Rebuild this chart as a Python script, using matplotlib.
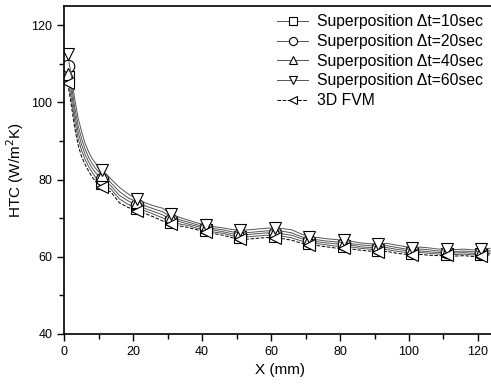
import matplotlib
matplotlib.use("Agg")
import matplotlib.pyplot as plt
from matplotlib.ticker import MultipleLocator

plt.rcParams['font.family'] = ['Liberation Sans', 'DejaVu Sans']

x_mm = [1, 2, 3, 4, 5, 6, 7, 8, 9, 10, 11,
        13.5, 16, 18.5, 21, 23.5, 26, 28.5, 31, 33.5, 36, 38.5, 41, 43.5, 46, 48.5, 51,
        53.5, 56, 58.5, 61, 63.5, 66, 68.5, 71, 73.5, 76, 78.5, 81, 83.5, 86, 88.5, 91,
        93.5, 96, 98.5, 101, 103.5, 106, 108.5, 111, 113.5, 116, 118.5, 121, 123.5]

htc_dt10 = [106.5, 101.3, 95.3, 90.7, 87.6, 85.3, 83.5, 82.0, 80.7, 79.8, 79.1,
            77.6, 75.0, 73.6, 72.7, 71.9, 71.0, 70.1, 69.0, 68.5, 68.1, 67.4, 66.9, 66.4, 66.1, 65.5, 65.1,
            65.2, 65.4, 65.6, 65.5, 65.3, 64.9, 64.2, 63.6, 63.4, 63.1, 62.8, 62.7, 62.5, 62.2, 62.0, 61.8,
            61.9, 61.5, 61.2, 61.0, 61.1, 60.9, 60.7, 60.8, 60.6, 60.7, 60.5, 60.7, 60.9]

htc_dt20 = [109.4, 103.1, 97.1, 92.4, 89.1, 86.6, 84.7, 83.1, 81.9, 80.9, 80.2,
            78.4, 75.9, 74.5, 73.4, 72.5, 71.7, 70.9, 69.6, 69.1, 68.5, 67.9, 67.4, 66.9, 66.5, 66.0, 65.7,
            65.8, 66.0, 66.2, 66.1, 65.9, 65.6, 64.8, 64.1, 63.9, 63.6, 63.4, 63.2, 63.0, 62.6, 62.4, 62.3,
            62.4, 62.0, 61.7, 61.4, 61.5, 61.3, 61.1, 61.2, 61.0, 61.1, 60.9, 61.1, 61.3]

htc_dt40 = [107.5, 104.9, 98.9, 94.0, 90.7, 88.0, 85.9, 84.3, 83.0, 82.0, 81.2,
            79.2, 76.9, 75.3, 74.2, 73.2, 72.4, 71.7, 70.3, 69.6, 69.0, 68.3, 67.8, 67.3, 67.0, 66.5, 66.2,
            66.3, 66.5, 66.7, 66.8, 66.6, 66.2, 65.3, 64.6, 64.4, 64.1, 63.9, 63.7, 63.4, 63.1, 62.9, 62.7,
            62.9, 62.5, 62.1, 61.9, 62.0, 61.8, 61.5, 61.6, 61.4, 61.5, 61.3, 61.5, 61.7]

htc_dt60 = [112.5, 107.0, 101.0, 96.0, 92.5, 89.5, 87.3, 85.6, 84.3, 83.3, 82.5,
            80.2, 78.0, 76.3, 75.0, 74.0, 73.2, 72.6, 71.0, 70.2, 69.5, 68.8, 68.3, 67.8, 67.5, 67.1, 66.9,
            67.0, 67.2, 67.4, 67.5, 67.3, 67.0, 66.0, 65.2, 65.0, 64.7, 64.5, 64.3, 64.0, 63.6, 63.4, 63.3,
            63.5, 63.1, 62.7, 62.4, 62.5, 62.3, 62.0, 62.0, 61.9, 62.0, 61.8, 62.0, 62.2]

htc_fvm = [105.0, 99.5, 93.5, 89.0, 86.0, 84.0, 82.3, 80.8, 79.6, 78.7, 78.0,
           76.8, 74.0, 72.8, 72.0, 71.2, 70.3, 69.3, 68.4, 68.0, 67.6, 67.0, 66.5, 66.0, 65.6, 65.0, 64.5,
           64.6, 64.8, 65.0, 64.9, 64.7, 64.3, 63.6, 63.1, 62.9, 62.6, 62.3, 62.2, 62.0, 61.7, 61.5, 61.3,
           61.4, 61.0, 60.7, 60.5, 60.6, 60.4, 60.3, 60.4, 60.2, 60.3, 60.1, 60.3, 60.5]

labels = ["Superposition \u0394t=10sec", "Superposition \u0394t=20sec",
          "Superposition \u0394t=40sec", "Superposition \u0394t=60sec", "3D FVM"]

marker_idx = [0] + list(range(10, len(x_mm), 4))

W, H = 491, 389
fig = plt.figure(figsize=(W / 100, H / 100), dpi=100)
ax_left, ax_bottom = 64.3 / W, (H - 334) / H
ax_h = (334 - 6) / H
ax_w = 125 * 3.447 / W
ax = fig.add_axes([ax_left, ax_bottom, ax_w, ax_h])

series = [(htc_dt10, 's', '-', '#555555'), (htc_dt20, 'o', '-', '#555555'),
          (htc_dt40, '^', '-', '#555555'), (htc_dt60, 'v', '-', '#555555'),
          (htc_fvm, '<', '--', 'black')]
for (vals, mk, ls, col), lab in zip(series, labels):
    ax.plot(x_mm, vals, linestyle=ls, color=col, linewidth=0.7,
            marker=mk, markevery=marker_idx, markersize=9,
            markerfacecolor='white', markeredgecolor='black', markeredgewidth=0.8,
            label=lab)

ax.set_xlim(0, 125)
ax.set_ylim(40, 125)
ax.xaxis.set_major_locator(MultipleLocator(20))
ax.xaxis.set_minor_locator(MultipleLocator(10))
ax.yaxis.set_major_locator(MultipleLocator(20))
ax.yaxis.set_minor_locator(MultipleLocator(10))
ax.tick_params(which='major', direction='out', length=5, width=1, labelsize=9)
ax.tick_params(which='minor', direction='out', length=3.5, width=1)
for s in ax.spines.values():
    s.set_linewidth(1.2)

ax.set_xlabel("X (mm)", fontsize=11)
ax.set_ylabel("HTC (W/m$^2$K)", fontsize=11)

leg = ax.legend(loc='upper right', bbox_to_anchor=(491 / W, 1 - 6.5 / H),
                bbox_transform=fig.transFigure, frameon=False, fontsize=11.3,
                markerscale=0.65, handlelength=2.0, handletextpad=0.55,
                labelspacing=0.3, borderpad=0)

fig.savefig("out.png", dpi=100)
